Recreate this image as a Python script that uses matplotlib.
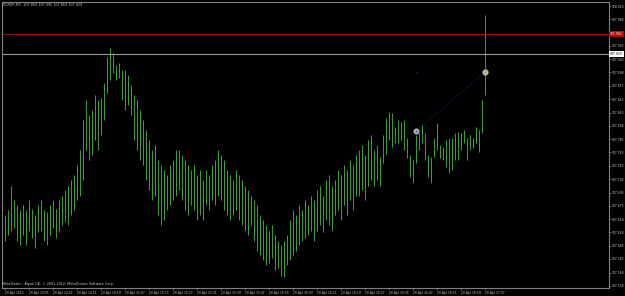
import matplotlib
matplotlib.use("Agg")
import matplotlib.pyplot as plt
import matplotlib.transforms as mtransforms
import numpy as np

header_text = "EURJPY,M1  107.859 107.995 107.859 107.929"
copyright_text = "MetaTrader - Alpari UK, \u00a9 2001-2012, MetaQuotes Software Corp."

# one-minute bars, 14:27 .. 17:07
highs = [
    107.657, 107.665, 107.707, 107.682, 107.674, 107.665, 107.674, 107.665, 107.682, 107.668,
    107.657, 107.674, 107.682, 107.665, 107.662, 107.674, 107.682, 107.668, 107.682, 107.690,
    107.699, 107.707, 107.716, 107.724, 107.741, 107.767, 107.817, 107.851, 107.826, 107.834,
    107.859, 107.851, 107.854, 107.880, 107.924, 107.939, 107.930, 107.910, 107.914, 107.902,
    107.902, 107.893, 107.876, 107.859, 107.851, 107.834, 107.817, 107.800, 107.783, 107.767,
    107.775, 107.750, 107.741, 107.733, 107.724, 107.741, 107.750, 107.767, 107.767, 107.758,
    107.750, 107.741, 107.733, 107.741, 107.724, 107.733, 107.716, 107.733, 107.724, 107.741,
    107.750, 107.767, 107.758, 107.750, 107.733, 107.724, 107.716, 107.733, 107.724, 107.716,
    107.707, 107.699, 107.690, 107.682, 107.674, 107.657, 107.648, 107.640, 107.631, 107.640,
    107.623, 107.614, 107.606, 107.614, 107.623, 107.648, 107.665, 107.657, 107.674, 107.665,
    107.682, 107.674, 107.690, 107.682, 107.699, 107.707, 107.690, 107.716, 107.724, 107.707,
    107.716, 107.733, 107.724, 107.741, 107.733, 107.750, 107.741, 107.758, 107.767, 107.775,
    107.758, 107.783, 107.792, 107.767, 107.775, 107.755, 107.792, 107.821, 107.831, 107.829,
    107.805, 107.817, 107.814, 107.817, 107.788, 107.758, 107.750, 107.792, 107.795, 107.809,
    107.795, 107.758, 107.755, 107.787, 107.812, 107.775, 107.772, 107.783, 107.788, 107.788,
    107.795, 107.797, 107.795, 107.800, 107.787, 107.792, 107.788, 107.805, 107.800, 107.851,
    107.995,
]
lows = [
    107.614, 107.623, 107.631, 107.635, 107.614, 107.606, 107.623, 107.606, 107.631, 107.618,
    107.601, 107.628, 107.631, 107.614, 107.606, 107.623, 107.635, 107.618, 107.628, 107.640,
    107.645, 107.640, 107.657, 107.665, 107.682, 107.690, 107.716, 107.767, 107.750, 107.758,
    107.783, 107.767, 107.792, 107.817, 107.863, 107.885, 107.897, 107.885, 107.888, 107.851,
    107.834, 107.843, 107.826, 107.783, 107.767, 107.750, 107.741, 107.716, 107.699, 107.682,
    107.690, 107.657, 107.640, 107.648, 107.665, 107.674, 107.682, 107.690, 107.699, 107.682,
    107.665, 107.657, 107.674, 107.665, 107.648, 107.657, 107.648, 107.674, 107.665, 107.682,
    107.674, 107.690, 107.682, 107.665, 107.657, 107.648, 107.657, 107.665, 107.648, 107.640,
    107.631, 107.623, 107.640, 107.614, 107.597, 107.589, 107.581, 107.572, 107.577, 107.584,
    107.564, 107.567, 107.555, 107.552, 107.572, 107.581, 107.589, 107.597, 107.606, 107.614,
    107.618, 107.623, 107.631, 107.614, 107.631, 107.640, 107.628, 107.648, 107.640, 107.631,
    107.657, 107.665, 107.648, 107.674, 107.657, 107.682, 107.665, 107.690, 107.690, 107.699,
    107.682, 107.707, 107.716, 107.707, 107.716, 107.707, 107.745, 107.761, 107.783, 107.772,
    107.778, 107.778, 107.783, 107.767, 107.753, 107.721, 107.711, 107.745, 107.767, 107.778,
    107.750, 107.721, 107.712, 107.755, 107.767, 107.753, 107.750, 107.738, 107.728, 107.733,
    107.750, 107.750, 107.767, 107.778, 107.750, 107.767, 107.770, 107.778, 107.763, 107.795,
    107.859,
]

time_labels = ["14:27", "14:35", "14:43", "14:51", "14:59", "15:07", "15:15", "15:23",
               "15:31", "15:39", "15:47", "15:55", "16:03", "16:11", "16:19", "16:27",
               "16:35", "16:43", "16:51", "16:59", "17:07"]
price_labels = ["108.010", "107.988", "107.965", "107.943", "107.920", "107.898",
                "107.875", "107.853", "107.830", "107.808", "107.785", "107.763",
                "107.740", "107.718", "107.695", "107.673", "107.650", "107.628",
                "107.605", "107.583", "107.560", "107.538"]

red_level = 107.963
bid_level = 107.929
marker_bars = [137, 160]
marker_prices = [107.799, 107.898]

bar_color = "#3c9a3c"
text_color = "#c8c8c8"
fs = 2.15

W, H = 625, 296
fig = plt.figure(figsize=(W / 100, H / 100), dpi=100, facecolor="black")
ax = fig.add_axes([2 / W, 8 / H, 607 / W, 286 / H], facecolor="black")

x = np.arange(len(highs))
ax.vlines(x, lows, highs, color=bar_color, lw=0.75)

ax.axhline(red_level, color="#8c1010", lw=0.8)
ax.axhline(bid_level, color="#9a9a9a", lw=0.8)

# trade markers and dotted link
ax.plot(marker_bars, marker_prices, ls=(0, (1, 1.5)), color="#23237a", lw=0.6)
ax.plot(marker_bars[0], marker_prices[0], "o", ms=4.2, mfc="#b8b8b8", mec="#707070", mew=0.4)
ax.plot(marker_bars[0], marker_prices[0], "o", ms=1.3, mfc="#3030c0", mec="none")
ax.plot(marker_bars[1], marker_prices[1], "o", ms=4.2, mfc="#c8c4a0", mec="#808070", mew=0.4)
ax.plot(marker_bars[1], marker_prices[1], "o", ms=1.3, mfc="#a09040", mec="none")
ax.plot(marker_bars[0], marker_prices[1], "s", ms=0.8, mfc="#2a2a90", mec="none")

ax.set_xlim(-1, 201.33)
ax.set_ylim(107.534, 108.0168)

for s in ax.spines.values():
    s.set_color("#808080")
    s.set_linewidth(0.8)

def minutes(t):
    h, m = t.split(":")
    return int(h) * 60 + int(m)

t0 = minutes(time_labels[0])
ax.set_xticks([minutes(t) - t0 for t in time_labels])
ax.set_xticklabels(["20 Apr 2012"] + ["20 Apr " + t for t in time_labels[1:]],
                   ha="left")
ax.yaxis.tick_right()
ax.set_yticks([float(p) for p in price_labels])
# the tick under the red price box is hidden by the box, as in the terminal
ax.set_yticklabels(["" if abs(float(p) - red_level) < 0.005 else p for p in price_labels])
ax.tick_params(axis="both", colors="#808080", labelcolor=text_color, labelsize=fs,
               length=1.4, width=0.5, pad=0.6)

blend = mtransforms.blended_transform_factory(ax.transAxes, ax.transData)
ax.text(1.0015, red_level, f"{red_level:.3f}", transform=blend, fontsize=fs, color="white",
        va="center", ha="left", bbox=dict(facecolor="#c00000", edgecolor="none", pad=0.7))
ax.text(1.0015, bid_level, f"{bid_level:.3f}", transform=blend, fontsize=fs, color="black",
        va="center", ha="left", bbox=dict(facecolor="white", edgecolor="none", pad=0.7))

fig.text(3 / W, 1 - 5 / H, header_text, fontsize=fs + 0.3, color=text_color, va="center")
fig.text(2 / W, 1 - 284 / H, copyright_text, fontsize=fs + 0.3, color=text_color, va="center")

fig.savefig("out.png", dpi=100, facecolor="black")
